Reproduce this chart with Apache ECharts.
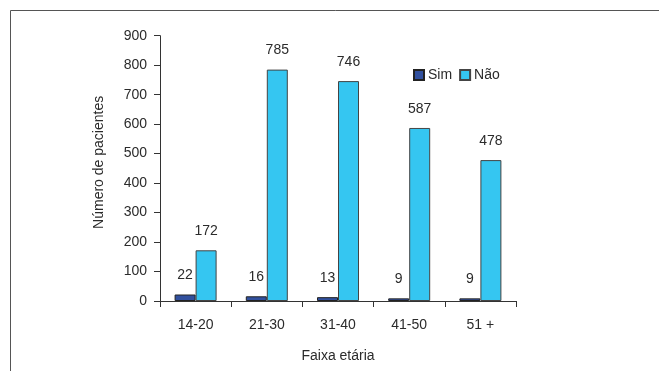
<!DOCTYPE html>
<html>
<head>
<meta charset="utf-8">
<script src="https://cdn.jsdelivr.net/npm/echarts@6/dist/echarts.min.js"></script>
<style>
  html, body { margin: 0; padding: 0; background: #fff; }
  #chart { width: 659px; height: 371px; }
</style>
</head>
<body>
<div id="chart"></div>
<script>
// Age groups and patient counts
const categories = ['14-20', '21-30', '31-40', '41-50', '51 +'];
const simValues = [22, 16, 13, 9, 9];
const naoValues = [172, 785, 746, 587, 478];
const yTicks = { min: 0, max: 900, interval: 100 };

const font = 'Liberation Sans, Arial, sans-serif';
const textColor = '#2b2b2b';

const chart = echarts.init(document.getElementById('chart'), null, { renderer: 'canvas' });

const labelCfg = {
  show: true,
  position: 'top',
  distance: 12,
  color: textColor,
  fontFamily: font,
  fontSize: 14
};

chart.setOption({
  animation: false,
  backgroundColor: '#fff',
  graphic: [{
    type: 'polyline',
    shape: { points: [[10.5, 400], [10.5, 10.5], [700, 10.5]] },
    style: { stroke: '#555', lineWidth: 1, fill: null },
    silent: true
  }],
  grid: { left: 160, top: 35.7, width: 356, height: 265.3, containLabel: false },
  legend: {
    left: 408,
    top: 63,
    itemWidth: 10,
    itemHeight: 10,
    itemGap: 7,
    icon: 'rect',
    textStyle: { color: textColor, fontFamily: font, fontSize: 14, padding: [0, 0, 0, -1] },
    data: ['Sim', 'Não']
  },
  xAxis: {
    type: 'category',
    data: categories,
    name: 'Faixa etária',
    nameLocation: 'middle',
    nameGap: 48,
    nameTextStyle: { color: textColor, fontFamily: font, fontSize: 14 },
    axisLine: { lineStyle: { color: '#333', width: 1 } },
    axisTick: { show: true, length: 6, lineStyle: { color: '#333' } },
    axisLabel: { color: textColor, fontFamily: font, fontSize: 14, margin: 17 }
  },
  yAxis: {
    type: 'value',
    min: yTicks.min,
    max: yTicks.max,
    interval: yTicks.interval,
    name: 'Número de pacientes',
    nameLocation: 'middle',
    nameGap: 54,
    nameRotate: 90,
    nameTextStyle: { color: textColor, fontFamily: font, fontSize: 14, padding: [0, 0, 0, 12] },
    axisLine: { show: true, lineStyle: { color: '#333', width: 1 } },
    axisTick: { show: true, length: 6, lineStyle: { color: '#333' } },
    axisLabel: { color: textColor, fontFamily: font, fontSize: 14, margin: 13 },
    splitLine: { show: false }
  },
  series: [
    {
      name: 'Sim',
      type: 'bar',
      data: simValues,
      barWidth: 21,
      barGap: '0%',
      itemStyle: { color: '#31509e', borderColor: '#222', borderWidth: 1 },
      label: labelCfg
    },
    {
      name: 'Não',
      type: 'bar',
      data: naoValues,
      barWidth: 21,
      barGap: '0%',
      itemStyle: { color: '#35c6f1', borderColor: '#444', borderWidth: 1 },
      label: labelCfg
    }
  ]
});
</script>
</body>
</html>
